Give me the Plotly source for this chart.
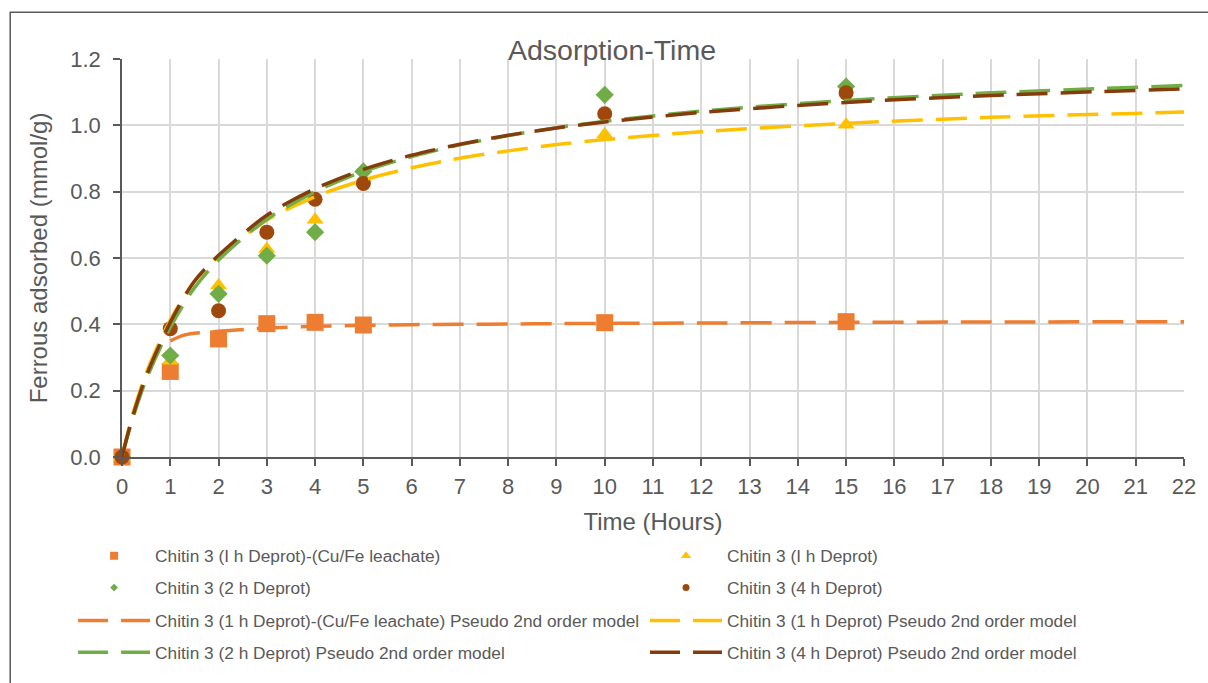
import plotly.graph_objects as go

# ---------------- data ----------------
t_exp = [0, 1, 2, 3, 4, 5, 10, 15]
q_cufe = [0, 0.258, 0.356, 0.402, 0.406, 0.398, 0.405, 0.408]
q_1h = [0, 0.29, 0.517, 0.627, 0.715, 0.84, 0.972, 1.002]
q_2h = [0, 0.306, 0.492, 0.607, 0.678, 0.861, 1.092, 1.117]
q_4h = [0, 0.387, 0.441, 0.678, 0.777, 0.825, 1.035, 1.098]

t_model_cufe = [1, 1.25, 1.5, 2, 3, 4, 5, 6, 7, 8, 9, 10, 12, 15, 18, 22]
m_cufe = [0.35, 0.366, 0.373, 0.379, 0.389, 0.394, 0.397, 0.399, 0.40, 0.401, 0.402, 0.403, 0.404, 0.406, 0.407, 0.408]

t_model = [0, 0.1, 0.25, 0.5, 1, 1.5, 2, 3, 4, 5, 6, 7, 8, 9, 10, 12, 15, 18, 22]
m_1h = [0, 0.062, 0.143, 0.253, 0.413, 0.53, 0.604, 0.714, 0.785, 0.835, 0.872, 0.901, 0.923, 0.942, 0.957, 0.981, 1.006, 1.024, 1.04]
m_2h = [0, 0.055, 0.129, 0.233, 0.391, 0.51, 0.594, 0.717, 0.80, 0.861, 0.906, 0.941, 0.969, 0.993, 1.012, 1.043, 1.075, 1.098, 1.12]
m_4h = [0, 0.058, 0.136, 0.244, 0.406, 0.53, 0.608, 0.729, 0.809, 0.867, 0.91, 0.943, 0.97, 0.992, 1.01, 1.039, 1.069, 1.09, 1.11]

names_pts = [
    "Chitin 3 (I h Deprot)-(Cu/Fe leachate)",
    "Chitin 3 (I h Deprot)",
    "Chitin 3 (2 h Deprot)",
    "Chitin 3 (4 h Deprot)",
]
names_mod = [
    "Chitin 3 (1 h Deprot)-(Cu/Fe leachate) Pseudo 2nd order model",
    "Chitin 3 (1 h Deprot) Pseudo 2nd order model",
    "Chitin 3 (2 h Deprot) Pseudo 2nd order model",
    "Chitin 3 (4 h Deprot) Pseudo 2nd order model",
]
x_ticks = list(range(0, 23))
y_ticks = [0.0, 0.2, 0.4, 0.6, 0.8, 1.0, 1.2]

# ---------------- style ----------------
C_OR = "#ED7D31"
C_YE = "#FFC000"
C_GR = "#70AD47"
C_BR = "#9E480E"
C_BRL = "#843C0C"
TXT = "#595959"
AX = "#595959"
FONT = "Liberation Sans, Arial, sans-serif"

W, H = 1208, 683
L, R, T, B = 122, 22, 59, 224
PW, PH = W - L - R, H - T - B


def px_x(p):
    return (p - L) / PW


def px_y(p):
    return (H - B - p) / PH


fig = go.Figure()

pt_series = [
    (q_cufe, C_OR, "square", 17, 8),
    (q_1h, C_YE, "triangle-up", 15, 9),
    (q_2h, C_GR, "diamond", 14, 6),
    (q_4h, C_BR, "circle", 15, 7),
]
mod_series = [(t_model_cufe, m_cufe, C_OR), (t_model, m_1h, C_YE),
              (t_model, m_2h, C_GR), (t_model, m_4h, C_BRL)]

# experimental markers
for (q, c, sym, s, ls), nm in zip(pt_series, names_pts):
    fig.add_trace(go.Scatter(x=t_exp, y=q, mode="markers", name=nm, showlegend=False,
                             cliponaxis=False,
                             marker=dict(symbol=sym, size=s, color=c, line=dict(width=0))))

# model lines
for (tt, m, c), nm in zip(mod_series, names_mod):
    fig.add_trace(go.Scatter(x=tt, y=m, mode="lines", name=nm, showlegend=False,
                             line=dict(color=c, width=3.5, dash="31px,13px", shape="spline", smoothing=0.8)))

# legend entries (one legend per entry, placed like the reference grid)
leg_pos = [
    (73, 558.5), (646, 558.5),
    (73, 590.5), (646, 590.5),
    (73, 623.5), (646, 623.5),
    (73, 655.5), (646, 655.5),
]
entries = []
for (q, c, sym, s, ls), nm in zip(pt_series, names_pts):
    entries.append(dict(kind="m", name=nm, c=c, sym=sym, s=ls))
for (tt, m, c), nm in zip(mod_series, names_mod):
    entries.append(dict(kind="l", name=nm, c=c))

legend_layouts = {}
for i, e in enumerate(entries):
    lname = "legend" if i == 0 else f"legend{i+1}"
    if e["kind"] == "m":
        tr = go.Scatter(x=[None], y=[None], mode="markers", name=e["name"], legend=lname,
                        marker=dict(symbol=e["sym"], size=e["s"], color=e["c"], line=dict(width=0)))
    else:
        tr = go.Scatter(x=[None], y=[None], mode="lines", name=e["name"], legend=lname,
                        line=dict(color=e["c"], width=3.5, dash="30px,13px"))
    fig.add_trace(tr)
    xp, yp = leg_pos[i]
    legend_layouts[lname] = dict(x=px_x(xp), y=px_y(yp), xanchor="left", yanchor="middle",
                                 xref="paper", yref="paper", bgcolor="rgba(0,0,0,0)",
                                 font=dict(family=FONT, size=17.3, color=TXT), itemwidth=72,
                                 itemsizing="trace")

fig.update_layout(**legend_layouts)

fig.update_layout(
    width=W, height=H,
    margin=dict(l=L, r=R, t=T, b=B),
    paper_bgcolor="white", plot_bgcolor="white",
    font=dict(family=FONT, color=TXT),
    title=dict(text="Adsorption-Time", x=612 / W, xref="container", xanchor="center",
               y=1 - 50 / H, yref="container", yanchor="middle",
               font=dict(family=FONT, size=28.5, color=TXT)),
)
fig.update_xaxes(range=[0, 22], tickvals=x_ticks, ticktext=[str(v) for v in x_ticks],
                 showgrid=True, gridcolor="#D9D9D9", gridwidth=1.5,
                 showline=True, linecolor=AX, linewidth=1.5,
                 ticks="outside", ticklen=7, tickwidth=1.5, tickcolor=AX,
                 ticklabelstandoff=2,
                 tickfont=dict(family=FONT, size=22, color=TXT), zeroline=False,
                 title=dict(text="Time (Hours)", font=dict(family=FONT, size=24, color=TXT), standoff=15))
fig.update_yaxes(range=[0, 1.2], tickvals=y_ticks, ticktext=[f"{v:.1f}" for v in y_ticks],
                 showgrid=True, gridcolor="#D9D9D9", gridwidth=1.5,
                 showline=True, linecolor=AX, linewidth=1.5,
                 ticks="outside", ticklen=7, tickwidth=1.5, tickcolor=AX,
                 ticklabelstandoff=8,
                 tickfont=dict(family=FONT, size=22, color=TXT), zeroline=False,
                 title=dict(text="Ferrous adsorbed (mmol/g)", font=dict(family=FONT, size=24, color=TXT), standoff=16))

fig.add_shape(type="rect", xref="paper", yref="paper",
              x0=px_x(10), x1=px_x(1220), y0=px_y(700), y1=px_y(12),
              line=dict(color="#595959", width=1.5), fillcolor="rgba(0,0,0,0)", layer="below")

fig.write_html("out.html")
